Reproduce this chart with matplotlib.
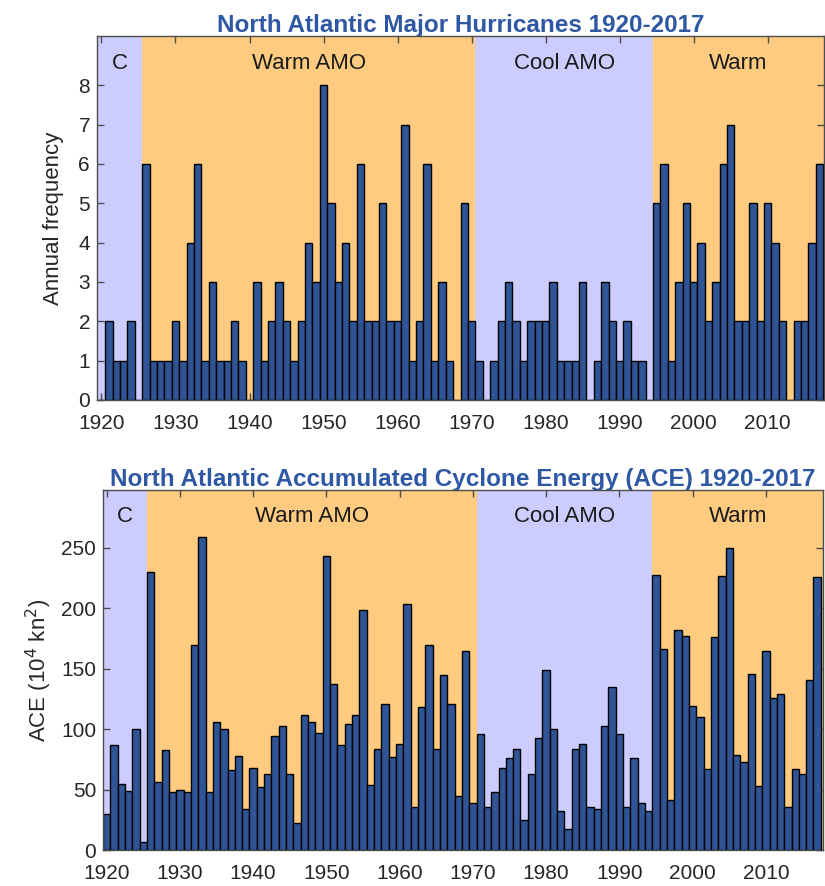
import numpy as np
import matplotlib
matplotlib.use("Agg")
from matplotlib import pyplot as plt

plt.rcParams['font.family'] = ['Liberation Sans', 'DejaVu Sans']

years = list(range(1920, 2018))

# major hurricanes per year
major = [0, 2, 1, 1, 2, 0, 6, 1, 1, 1,
         2, 1, 4, 6, 1, 3, 1, 1, 2, 1,
         0, 3, 1, 2, 3, 2, 1, 2, 4, 3,
         8, 5, 3, 4, 2, 6, 2, 2, 5, 2,
         2, 7, 1, 2, 6, 1, 3, 1, 0, 5,
         2, 1, 0, 1, 2, 3, 2, 1, 2, 2,
         2, 3, 1, 1, 1, 3, 0, 1, 3, 2,
         1, 2, 1, 1, 0, 5, 6, 1, 3, 5,
         3, 4, 2, 3, 6, 7, 2, 2, 5, 2,
         5, 4, 2, 0, 2, 2, 4, 6]

# accumulated cyclone energy per year
ace = [30, 87, 55, 49, 100, 7, 230, 56, 83, 48,
       50, 48, 170, 259, 48, 106, 100, 66, 78, 34,
       68, 52, 63, 94, 103, 63, 22, 112, 106, 97,
       243, 137, 87, 104, 112, 199, 54, 84, 121, 77,
       88, 204, 36, 118, 170, 84, 145, 121, 45, 165,
       39, 96, 36, 48, 68, 76, 84, 25, 63, 93,
       149, 100, 32, 17, 84, 88, 36, 34, 103, 135,
       96, 36, 76, 39, 32, 228, 166, 41, 182, 177,
       119, 110, 67, 176, 227, 250, 79, 73, 146, 53,
       165, 126, 129, 36, 67, 63, 141, 226]

# AMO phases: (start, end, colour, label)
phases = [(1919.0, 1925.5, 'cool', 'C'),
          (1925.5, 1970.5, 'warm', 'Warm AMO'),
          (1970.5, 1994.5, 'cool', 'Cool AMO'),
          (1994.5, 2018.5, 'warm', 'Warm')]
phase_col = {'cool': '#CCCCFF', 'warm': '#FECB80'}

bar_col = '#2F5597'
title_col = '#2E58A3'
spine_col = '#4D4D4D'

fig = plt.figure(figsize=(8.25, 8.86), dpi=100)
ax1 = fig.add_axes([97/825, 1-400/886, 727/825, 364/886])
ax2 = fig.add_axes([103/825, 1-850/886, 720/825, 360/886])


def panel(ax, vals, xlim, ylim, yticks, title, ylabel, lpad):
    for a, b, c, lab in phases:
        ax.axvspan(a, b, color=phase_col[c], lw=0, zorder=0)
        mid = (max(a, xlim[0]) + min(b, xlim[1])) / 2
        ax.text(mid, 0.925, lab, transform=ax.get_xaxis_transform(),
                ha='center', va='center', fontsize=16, color='#1a1a1a')
    ax.bar(years, vals, width=1.0, color=bar_col, edgecolor='black',
           linewidth=1.0, zorder=2)
    ax.set_xlim(*xlim)
    ax.set_ylim(*ylim)
    ax.set_xticks(range(1920, 2011, 10))
    ax.set_yticks(yticks)
    ax.tick_params(direction='in', length=5, width=1, top=True, right=True,
                   labelsize=15, colors=spine_col, labelcolor='#262626', pad=5)
    ax.tick_params(axis='x', pad=10)
    for s in ax.spines.values():
        s.set_color(spine_col)
        s.set_linewidth(1.0)
        s.set_zorder(5)
    ax.set_title(title, color=title_col, fontsize=17.5, fontweight='bold', pad=3)
    ax.set_ylabel(ylabel, fontsize=16, color='#262626', labelpad=lpad)


panel(ax1, major, (1919.4, 2017.6), (0, 9.25), range(0, 9),
      'North Atlantic Major Hurricanes 1920-2017', 'Annual frequency', 10)
panel(ax2, ace, (1919.5, 2017.8), (0, 298), range(0, 251, 50),
      'North Atlantic Accumulated Cyclone Energy (ACE) 1920-2017',
      'ACE (10$^4$ kn$^2$)', 5)

fig.savefig('out.png', dpi=100)
